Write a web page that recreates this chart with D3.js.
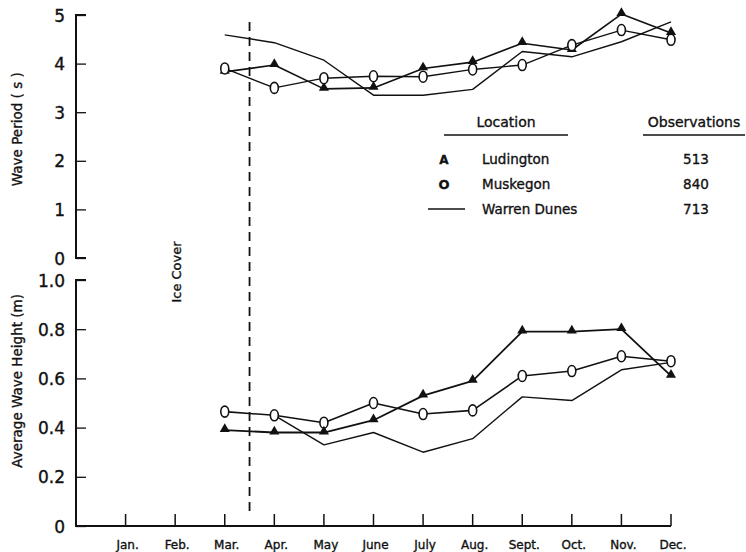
<!DOCTYPE html>
<html>
<head>
<meta charset="utf-8">
<script src="https://cdn.jsdelivr.net/npm/d3@7"></script>
<style>
  body { margin: 0; background: #fff; }
  svg text { font-family: "DejaVu Sans", sans-serif; fill: #111; stroke: #111; stroke-width: 0.35px; }
</style>
</head>
<body>
<svg id="chart" width="746" height="552"></svg>
<script>
// month index: Jan = 1 ... Dec = 12
const months = ["Jan.", "Feb.", "Mar.", "Apr.", "May", "June", "July", "Aug.", "Sept.", "Oct.", "Nov.", "Dec."];
const monthIdx = [3, 4, 5, 6, 7, 8, 9, 10, 11, 12];

const ludPeriod = [3.83, 3.97, 3.48, 3.5, 3.9, 4.03, 4.42, 4.28, 5.02, 4.63];
const musPeriod = [3.9, 3.5, 3.7, 3.74, 3.73, 3.88, 3.97, 4.38, 4.69, 4.49];
const warPeriod = [4.59, 4.43, 4.07, 3.35, 3.35, 3.47, 4.25, 4.14, 4.45, 4.86];

const ludHeight = [0.39, 0.38, 0.38, 0.43, 0.53, 0.59, 0.79, 0.79, 0.80, 0.61];
const musHeight = [0.465, 0.45, 0.42, 0.50, 0.455, 0.47, 0.61, 0.63, 0.69, 0.67];
const warHeight = [null, 0.45, 0.33, 0.38, 0.30, 0.355, 0.525, 0.51, 0.635, 0.665];

const periodTicks = [0, 1, 2, 3, 4, 5];
const heightTicks = [0, 0.2, 0.4, 0.6, 0.8, 1.0];
const heightTickLabels = ["0", "0.2", "0.4", "0.6", "0.8", "1.0"];

const legendRows = [
  { name: "Ludington", obs: "513", mark: "tri" },
  { name: "Muskegon", obs: "840", mark: "circ" },
  { name: "Warren Dunes", obs: "713", mark: "line" }
];

const svg = d3.select("#chart");

const x = d3.scaleLinear().domain([0, 12]).range([76, 671]);
const yTop = d3.scaleLinear().domain([0, 5]).range([258, 15]);
const yBot = d3.scaleLinear().domain([0, 1]).range([526, 280]);

// y axes
function drawYAxis(scale, ticks, labels) {
  const g = svg.append("g").attr("transform", `translate(${x(0)},0)`);
  g.call(d3.axisRight(scale).tickValues(ticks).tickSize(10).tickFormat(""));
  g.select(".domain").attr("stroke", "#111").attr("stroke-width", 2).attr("d",
    `M10,${scale.range()[1]}H0V${scale.range()[0]}H10`);
  g.selectAll(".tick line").attr("stroke", "#111").attr("stroke-width", 1.3);
  g.selectAll(".tick").append("text")
    .attr("x", -11).attr("dy", "0.36em")
    .attr("text-anchor", "end")
    .style("font-size", "17px")
    .text((d, i) => labels[i]);
}
drawYAxis(yTop, periodTicks, periodTicks.map(String));
drawYAxis(yBot, heightTicks, heightTickLabels);

// bottom x axis
const xg = svg.append("g").attr("transform", `translate(0,${yBot(0)})`);
xg.append("line").attr("x1", x(0)).attr("x2", x(12))
  .attr("stroke", "#111").attr("stroke-width", 2);
xg.selectAll(".mtick").data(months).enter().append("line")
  .attr("x1", (d, i) => x(i + 1)).attr("x2", (d, i) => x(i + 1))
  .attr("y1", 0).attr("y2", -12)
  .attr("stroke", "#111").attr("stroke-width", 1.5);
xg.selectAll(".mlab").data(months).enter().append("text")
  .attr("x", (d, i) => x(i + 1) + 2).attr("y", 23)
  .attr("text-anchor", "middle")
  .style("font-size", "12px")
  .text(d => d);

// axis titles
svg.append("text")
  .attr("transform", `translate(22,${yTop(2.65)}) rotate(-90)`)
  .attr("text-anchor", "middle")
  .style("font-size", "13.5px")
  .text("Wave Period  ( s )");
svg.append("text")
  .attr("transform", `translate(22,${yBot(0.59)}) rotate(-90)`)
  .attr("text-anchor", "middle")
  .style("font-size", "13.5px")
  .text("Average Wave Height (m)");

// ice cover marker
svg.append("line")
  .attr("x1", x(3.5)).attr("x2", x(3.5))
  .attr("y1", 22).attr("y2", 515)
  .attr("stroke", "#111").attr("stroke-width", 1.8)
  .attr("stroke-dasharray", "9,6");
svg.append("text")
  .attr("transform", `translate(181,272) rotate(-90)`)
  .attr("text-anchor", "middle")
  .style("font-size", "13px")
  .text("Ice Cover");

// series
function drawSeries(yScale, values, width, mark) {
  const pts = monthIdx.map((m, i) => ({ m, v: values[i] })).filter(d => d.v != null);
  const line = d3.line().x(d => x(d.m)).y(d => yScale(d.v));
  svg.append("path").datum(pts)
    .attr("fill", "none").attr("stroke", "#111")
    .attr("stroke-width", width).attr("stroke-linejoin", "round")
    .attr("d", line);
  if (mark === "tri") {
    svg.append("g").selectAll("path").data(pts).enter().append("path")
      .attr("d", d3.symbol(d3.symbolTriangle, 44))
      .attr("transform", d => `translate(${x(d.m)},${yScale(d.v) - 1})`)
      .attr("fill", "#111");
  } else if (mark === "circ") {
    svg.append("g").selectAll("ellipse").data(pts).enter().append("ellipse")
      .attr("cx", d => x(d.m)).attr("cy", d => yScale(d.v))
      .attr("rx", 4).attr("ry", 5.5)
      .attr("fill", "#fff").attr("stroke", "#111").attr("stroke-width", 1.6);
  }
}
drawSeries(yTop, warPeriod, 1.4, "line");
drawSeries(yTop, ludPeriod, 1.6, "tri");
drawSeries(yTop, musPeriod, 1.4, "circ");
drawSeries(yBot, warHeight, 1.4, "line");
drawSeries(yBot, musHeight, 1.6, "circ");
drawSeries(yBot, ludHeight, 1.8, "tri");

// legend
const lg = svg.append("g");
lg.append("text").attr("x", 506).attr("y", 127).attr("text-anchor", "middle")
  .style("font-size", "14px").text("Location");
lg.append("line").attr("x1", 444).attr("x2", 568).attr("y1", 135).attr("y2", 135)
  .attr("stroke", "#111").attr("stroke-width", 1.5);
lg.append("text").attr("x", 694).attr("y", 127).attr("text-anchor", "middle")
  .style("font-size", "14px").text("Observations");
lg.append("line").attr("x1", 643).attr("x2", 745).attr("y1", 135).attr("y2", 135)
  .attr("stroke", "#111").attr("stroke-width", 1.5);

const rows = lg.selectAll(".row").data(legendRows).enter().append("g")
  .attr("transform", (d, i) => `translate(0,${159 + i * 25})`);
rows.append("text").attr("x", 482).attr("y", 5)
  .style("font-size", "13.5px").text(d => d.name);
rows.append("text").attr("x", 696).attr("y", 5).attr("text-anchor", "middle")
  .style("font-size", "13.5px").text(d => d.obs);
rows.filter(d => d.mark === "tri").append("text").attr("x", 444).attr("y", 5)
  .attr("text-anchor", "middle")
  .style("font-size", "12px").style("font-weight", "bold").text("A");
rows.filter(d => d.mark === "circ").append("text").attr("x", 444).attr("y", 5)
  .attr("text-anchor", "middle")
  .style("font-size", "13px").style("font-weight", "bold").text("O");
rows.filter(d => d.mark === "line").append("line")
  .attr("x1", 428).attr("x2", 465).attr("y1", 0).attr("y2", 0)
  .attr("stroke", "#111").attr("stroke-width", 1.5);
</script>
</body>
</html>
